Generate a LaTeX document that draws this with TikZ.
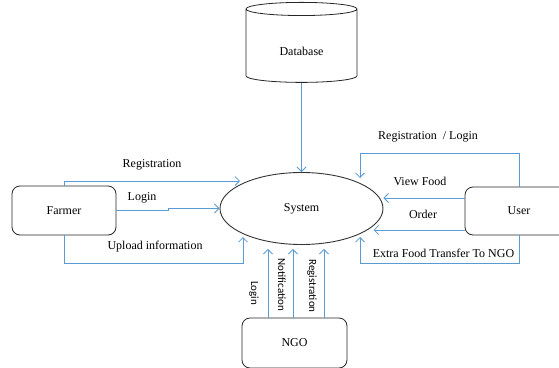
\documentclass[tikz,border=0pt]{standalone}
\usepackage{fontspec}
\setmainfont{Liberation Serif}
\newfontfamily\labfont{Carlito}
\usetikzlibrary{shapes.geometric,arrows.meta}
\definecolor{flowblue}{RGB}{91,155,213}
\tikzset{
  box/.style={draw=black!85, line width=0.8pt, rounded corners=8pt, font=\fontsize{12}{14}\selectfont},
  flow/.style={draw=flowblue, line width=0.8pt, -{Straight Barb[length=4.5pt,width=9pt]}},
  lab/.style={font=\fontsize{12}{14}\selectfont, inner sep=0pt},
  vlab/.style={font=\labfont\fontsize{11}{13}\selectfont, rotate=-90, inner sep=0pt},
}

\begin{document}
\begin{tikzpicture}[x=1pt,y=-1pt]
  \useasboundingbox (0,0) rectangle (559,367);
  % processes and stores
  \node[draw=black!80, line width=0.9pt, ellipse, minimum width=163pt, minimum height=72pt, font=\fontsize{12}{14}\selectfont] (system) at (301.5,208.5) {System};
  \node[draw=black!85, line width=0.8pt, cylinder, shape border rotate=90, aspect=0.26, minimum width=111pt, minimum height=80pt, text height=17pt, font=\fontsize{12}{14}\selectfont] (database) at (301.5,47) {Database};
  \node[box, minimum width=104pt, minimum height=49pt] (farmer) at (64,210.5) {Farmer};
  \node[box, minimum width=108pt, minimum height=48pt] (user) at (519,211) {User};
  \node[box, minimum width=105pt, minimum height=50pt] (ngo) at (294.5,343) {NGO};
  % database
  \draw[flow] (database) -- (system);
  % farmer side
  \draw[flow] (farmer.north) |- ([shift={(-61.5pt,27.5pt)}]system.center);
  \draw[flow] (farmer.east) -- ++(52,0) |- (system.west);
  \draw[flow] (farmer.south) |- ([shift={(-58.5pt,-54.5pt)}]system.center) -- ([shift={(-58.5pt,-28.5pt)}]system.center);
  \node[lab] (freg) at (152,165) {Registration};
  \node[lab] (flogin) at (142,198) {Login};
  \node[lab] (fupload) at (155,247) {Upload information};
  % user side
  \draw[flow] (user.north) |- ([shift={(58.5pt,55.5pt)}]system.center) -- ([shift={(58.5pt,30.5pt)}]system.center);
  \draw[flow] ([yshift=13pt]user.west) -- ([yshift=13pt]user.west -| system.east);
  \draw[flow] ([yshift=-19pt]user.west) -- ++(-91,0);
  \draw[flow] (user.south) |- ([shift={(58.5pt,-54.5pt)}]system.center) -- ([shift={(58.5pt,-28.5pt)}]system.center);
  \node[lab] (ureg) at (428,137) {Registration\ \ / Login};
  \node[lab] (uview) at (420,181) {View Food};
  \node[lab] (uorder) at (423,214) {Order};
  \node[lab] (uextra) at (443.5,253) {Extra Food Transfer To NGO};
  % ngo side
  \draw[flow, shorten >=4pt] ([xshift=-26.5pt]ngo.north) -- ([xshift=-26.5pt]ngo.north |- system.south);
  \draw[flow, shorten >=4pt] ([xshift=-1.5pt]ngo.north) -- ([xshift=-1.5pt]ngo.north |- system.south);
  \draw[flow, shorten >=4pt] ([xshift=29.5pt]ngo.north) -- ([xshift=29.5pt]ngo.north |- system.south);
  \node[vlab] (nlogin) at (254,293) {Login};
  \node[vlab] (nnotif) at (282,285) {Notification};
  \node[vlab] (nreg) at (312,286) {Registration};
\end{tikzpicture}
\end{document}
